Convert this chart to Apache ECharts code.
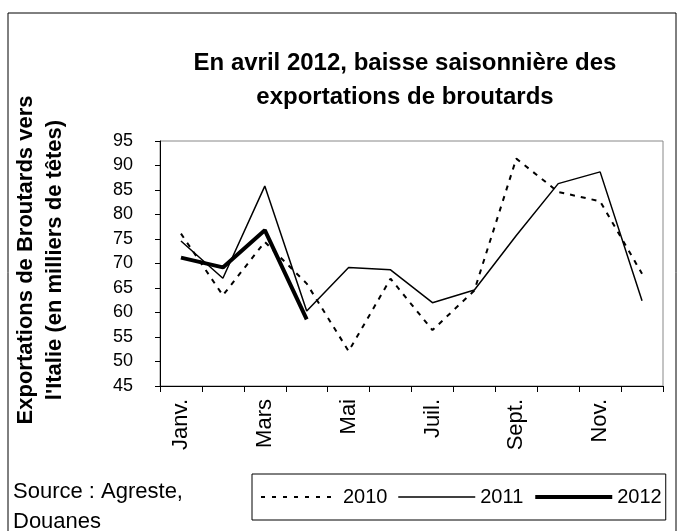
<!DOCTYPE html>
<html>
<head>
    <meta charset="utf-8">
    <title>Broutards</title>
    <script src="https://cdn.jsdelivr.net/npm/echarts@6.0.0/dist/echarts.min.js"></script>
    <style>
        html, body { margin: 0; padding: 0; background: #fff; }
        #chart { width: 677px; height: 531px; }
    </style>
</head>
<body>
    <div id="chart"></div>
    <script>
        // mois (un label sur deux affiché)
        var months = ['Janv.', 'Févr.', 'Mars', 'Avr.', 'Mai', 'Juin', 'Juil.', 'Août', 'Sept.', 'Oct.', 'Nov.', 'Déc.'];
        // exportations en milliers de têtes
        var data2010 = [76.1, 63.5, 74.4, 65.9, 52.1, 66.9, 56.4, 64.5, 91.4, 84.6, 82.7, 67.9];
        var data2011 = [74.6, 67.0, 85.8, 60.3, 69.2, 68.7, 62.0, 64.6, 75.7, 86.3, 88.7, 62.4];
        var data2012 = [71.2, 69.2, 76.8, 58.6, null, null, null, null, null, null, null, null];
        var yTicks = { min: 45, max: 95, step: 5 };

        var font = 'Liberation Sans, Arial, sans-serif';
        var chart = echarts.init(document.getElementById('chart'));

        // pas de symbole dans la légende, juste le trait
        var noSymbol = { color: 'rgba(0,0,0,0)', borderWidth: 0, opacity: 0 };

        var option = {
            animation: false,
            backgroundColor: '#fff',
            title: {
                text: 'En avril 2012, baisse saisonnière des\nexportations de broutards',
                left: 400,
                top: 41,
                textAlign: 'center',
                textStyle: {
                    fontFamily: font,
                    fontSize: 24,
                    fontWeight: 'bold',
                    lineHeight: 34,
                    color: '#000'
                }
            },
            grid: {
                left: 160,
                right: 14,
                top: 141,
                bottom: 145,
                show: true,
                borderColor: '#888',
                borderWidth: 1,
                containLabel: false
            },
            legend: {
                left: 252,
                top: 474,
                orient: 'horizontal',
                borderColor: '#000',
                borderWidth: 1,
                padding: [13, 4, 13, 8],
                itemGap: 10,
                itemWidth: 77,
                itemHeight: 14,
                textStyle: { fontFamily: font, fontSize: 20, color: '#000' },
                data: [
                    { name: '2010', itemStyle: noSymbol, lineStyle: { type: [4, 7], width: 2, color: '#000' } },
                    { name: '2011', itemStyle: noSymbol, lineStyle: { width: 1.5, color: '#000' } },
                    { name: '2012', itemStyle: noSymbol, lineStyle: { width: 4, color: '#000' } }
                ]
            },
            xAxis: {
                type: 'category',
                data: months,
                boundaryGap: true,
                axisLine: { lineStyle: { color: '#000', width: 1 } },
                axisTick: { show: true, interval: 0, length: 6, lineStyle: { color: '#000' } },
                axisLabel: {
                    interval: 1,
                    rotate: 90,
                    margin: 13,
                    fontFamily: font,
                    fontSize: 22,
                    color: '#000'
                },
                splitLine: { show: false }
            },
            yAxis: {
                type: 'value',
                min: yTicks.min,
                max: yTicks.max,
                interval: yTicks.step,
                axisLine: { show: true, lineStyle: { color: '#000', width: 1 } },
                axisTick: { show: true, length: 5, lineStyle: { color: '#000' } },
                axisLabel: { margin: 27, fontFamily: font, fontSize: 18, color: '#000' },
                splitLine: { show: false }
            },
            graphic: [
                {
                    type: 'rect',
                    shape: { x: 8, y: 13, width: 668, height: 540 },
                    style: { fill: 'none', stroke: '#000', lineWidth: 1 },
                    silent: true
                },
                {
                    type: 'text',
                    x: 40,
                    y: 260,
                    rotation: Math.PI / 2,
                    style: {
                        text: 'Exportations de Broutards vers\nl\'Italie (en milliers de têtes)',
                        font: 'bold 22px ' + font,
                        lineHeight: 29,
                        align: 'center',
                        verticalAlign: 'middle',
                        fill: '#000'
                    }
                },
                {
                    type: 'text',
                    x: 13,
                    y: 477,
                    style: {
                        text: 'Source : Agreste,\nDouanes',
                        font: '22px ' + font,
                        lineHeight: 30,
                        fill: '#000'
                    }
                }
            ],
            series: [
                {
                    name: '2010',
                    type: 'line',
                    data: data2010,
                    symbol: 'none',
                    lineStyle: { color: '#000', width: 2, type: [5, 6] },
                    itemStyle: { color: '#000' }
                },
                {
                    name: '2011',
                    type: 'line',
                    data: data2011,
                    symbol: 'none',
                    lineStyle: { color: '#000', width: 1.5 },
                    itemStyle: { color: '#000' }
                },
                {
                    name: '2012',
                    type: 'line',
                    data: data2012,
                    symbol: 'none',
                    connectNulls: false,
                    lineStyle: { color: '#000', width: 4 },
                    itemStyle: { color: '#000' }
                }
            ]
        };

        chart.setOption(option);
    </script>
</body>
</html>
